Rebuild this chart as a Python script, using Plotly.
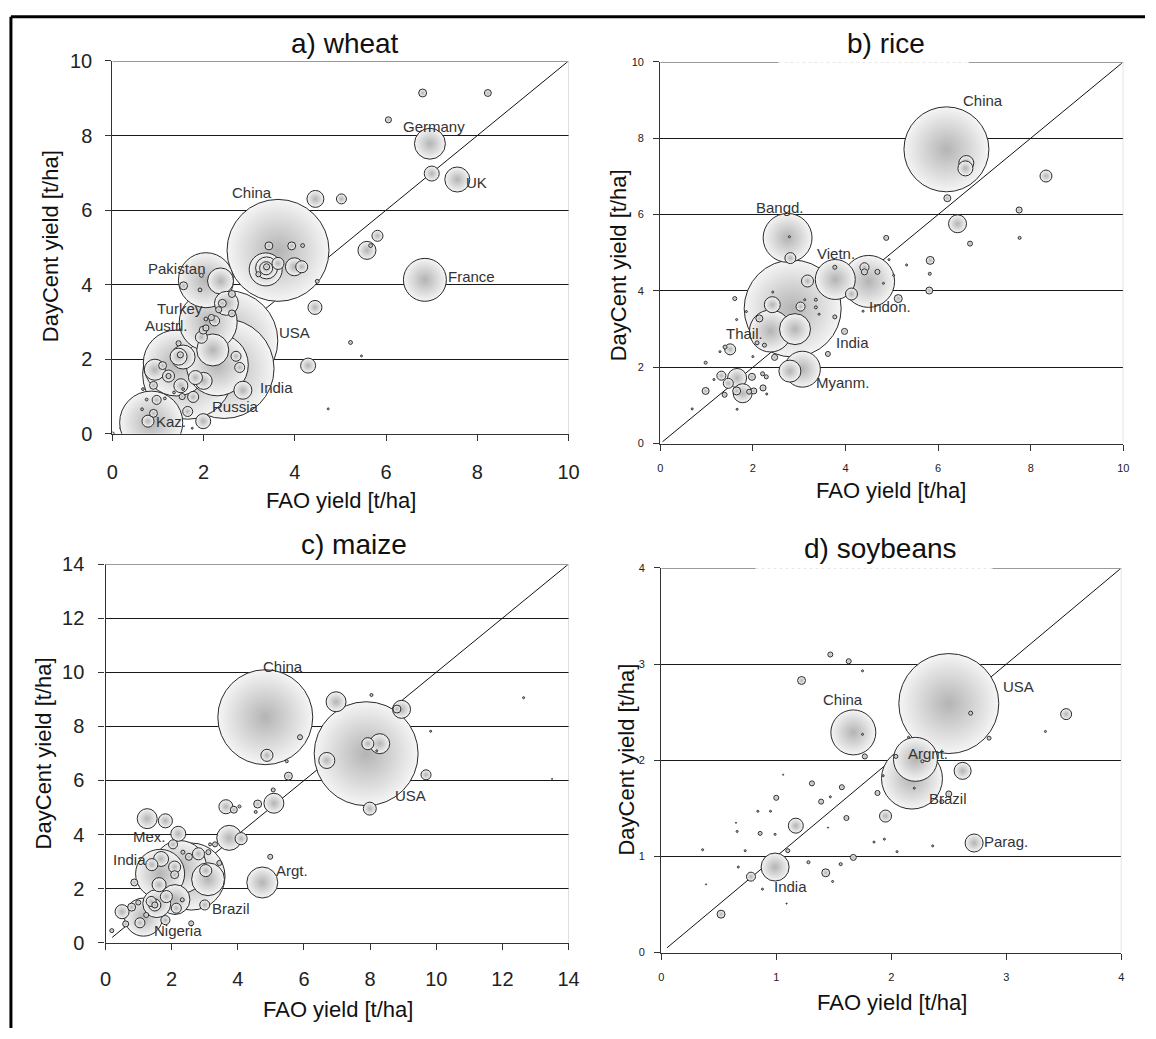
import plotly.graph_objects as go

W, H = 1156, 1039
FONT = "Liberation Sans, Arial, sans-serif"

# ---------------- data ----------------
# a) wheat : FAO yield, DayCent yield [t/ha], bubble weight (harvested area, approx.)
wheat_fao = [6.80, 8.23, 6.05, 6.96, 7.00, 7.56, 4.45, 5.02, 5.81, 5.58, 5.66, 3.63, 3.43, 3.93, 4.17,
             3.36, 3.38, 3.37, 3.38, 3.20, 3.63, 3.99, 4.15, 4.49, 4.44, 6.85, 5.22, 5.46, 4.29, 4.73,
             2.05, 2.37, 1.56, 1.95, 1.92, 2.50, 2.41, 2.62, 2.62, 2.33, 2.10, 2.53, 2.45, 1.65, 0.85,
             1.40, 2.20, 1.95, 1.99, 2.24, 2.17, 1.45, 1.45, 1.55, 1.49, 0.93, 1.10, 1.23, 1.23, 1.50,
             1.82, 2.00, 1.77, 1.53, 0.90, 0.97, 0.90, 0.78, 1.65, 1.99, 2.86, 2.71, 2.79, 2.05, 2.05,
             0.67, 0.75, 0.65, 1.15, 1.75, 1.35, 1.55, 0.00, 2.30]
wheat_daycent = [9.14, 9.14, 8.42, 7.78, 6.98, 6.82, 6.30, 6.30, 5.31, 4.92, 5.05, 4.92, 5.04, 5.04, 5.05,
                 4.41, 4.45, 4.44, 4.48, 4.28, 4.57, 4.48, 4.48, 4.09, 3.39, 4.13, 2.45, 2.09, 1.83, 0.67,
                 4.12, 4.10, 3.97, 4.25, 3.86, 3.50, 3.50, 3.75, 3.23, 3.33, 3.00, 2.50, 1.75, 1.60, 0.30,
                 1.90, 2.25, 2.59, 2.78, 3.03, 3.12, 2.43, 2.07, 2.06, 2.12, 1.72, 1.83, 1.55, 1.55, 1.29,
                 1.51, 1.42, 0.99, 1.00, 1.30, 0.91, 0.55, 0.34, 0.60, 0.34, 1.17, 2.08, 1.78, 3.08, 2.84,
                 1.20, 0.92, 0.66, 0.95, 0.15, 1.11, 1.20, 0.00, 1.85]
wheat_weight = [0.17, 0.13, 0.10, 2.6, 0.61, 1.7, 0.78, 0.27, 0.33, 0.88, 0.04, 28.2, 0.17, 0.17, 0.04,
                2.95, 1.31, 0.46, 0.10, 0.07, 0.39, 0.88, 0.39, 0.04, 0.53, 5.0, 0.04, 0.01, 0.61, 0.01,
                8.2, 1.83, 0.17, 0.04, 0.04, 1.56, 0.17, 0.13, 0.13, 0.10, 9.1, 27.1, 27.0, 22.0, 10.8,
                11.8, 2.78, 0.39, 0.17, 0.27, 0.10, 0.07, 0.78, 1.56, 0.10, 1.2, 0.17, 0.39, 0.07, 0.53,
                0.53, 0.78, 0.33, 0.10, 0.17, 0.22, 0.17, 0.39, 0.27, 0.61, 0.88, 0.27, 0.27, 0.04, 0.10,
                0.02, 0.02, 0.02, 0.02, 0.01, 0.02, 0.02, 0.04, 10.4]
wheat_labels = ["Germany", "UK", "China", "Pakistan", "France", "Turkey", "Austrl.", "USA", "India", "Russia", "Kaz."]
wheat_label_x = [7.06, 7.98, 3.07, 1.41, 7.87, 1.49, 1.19, 3.99, 3.60, 2.69, 1.29]
wheat_label_y = [8.23, 6.74, 6.48, 4.44, 4.22, 3.37, 2.91, 2.71, 1.24, 0.74, 0.32]

# b) rice
rice_fao = [6.18, 6.61, 6.59, 8.33, 6.20, 7.75, 6.42, 7.76, 6.69, 4.88, 5.83, 5.82, 5.81, 5.32, 4.94,
            5.04, 4.82, 5.14, 4.50, 4.41, 4.41, 4.69, 4.13, 4.38, 3.78, 3.77, 3.77, 3.98, 3.62, 2.86,
            2.75, 2.79, 2.81, 3.18, 3.03, 2.42, 2.91, 2.38, 2.14, 1.65, 1.61, 1.86, 2.43, 3.12, 3.36,
            3.36, 3.43, 2.09, 2.25, 2.00, 1.40, 1.51, 1.29, 2.47, 3.07, 2.80, 1.66, 1.78, 1.47, 1.32,
            1.65, 1.98, 2.02, 1.92, 2.21, 2.29, 2.22, 0.98, 1.39, 1.16, 0.98, 0.69, 1.66, 2.30]
rice_daycent = [7.71, 7.35, 7.21, 7.01, 6.43, 6.12, 5.76, 5.39, 5.24, 5.39, 4.80, 4.45, 4.01, 4.68, 4.82,
                4.41, 4.20, 3.80, 4.25, 4.62, 4.50, 4.50, 3.92, 3.47, 4.30, 4.62, 3.32, 2.94, 2.35, 3.54,
                5.39, 5.42, 4.86, 4.26, 3.59, 3.64, 3.00, 2.95, 3.28, 3.25, 3.80, 3.46, 3.97, 3.77, 3.77,
                3.57, 3.39, 2.64, 2.58, 2.28, 2.53, 2.47, 2.41, 2.26, 1.95, 1.90, 1.72, 1.32, 1.58, 1.78,
                1.38, 1.75, 1.38, 1.36, 1.83, 1.75, 1.46, 1.38, 1.28, 1.68, 2.12, 0.91, 0.90, 1.30]
rice_weight = [35.3, 1.1, 1.1, 0.70, 0.24, 0.18, 1.58, 0.044, 0.12, 0.12, 0.31, 0.044, 0.24, 0.02, 0.02,
               0.02, 0.02, 0.31, 13.2, 0.40, 0.18, 0.12, 0.70, 0.02, 7.8, 0.078, 0.078, 0.18, 0.12, 46.0,
               11.7, 0.02, 0.59, 0.70, 0.40, 1.25, 4.7, 8.6, 0.24, 0.02, 0.078, 0.02, 0.02, 0.02, 0.044,
               0.044, 0.02, 0.078, 0.078, 0.02, 0.078, 0.59, 0.02, 0.18, 6.3, 2.37, 1.77, 1.77, 0.49, 0.40,
               0.31, 0.24, 0.18, 0.12, 0.078, 0.078, 0.18, 0.24, 0.12, 0.02, 0.044, 0.02, 0.02, 0.02]
rice_labels = ["China", "Bangd.", "Vietn.", "Indon.", "Thail.", "India", "Myanm."]
rice_label_x = [6.98, 2.58, 3.79, 4.96, 1.81, 4.15, 3.94]
rice_label_y = [9.00, 6.19, 4.99, 3.58, 2.88, 2.66, 1.60]

# c) maize
maize_fao = [4.83, 7.88, 6.97, 8.95, 8.81, 8.04, 12.64, 9.83, 13.50, 8.29, 7.93, 8.20, 5.88, 4.88, 5.48,
             6.69, 5.53, 9.69, 7.99, 5.09, 5.07, 4.60, 4.54, 3.64, 3.88, 4.05, 4.98, 4.74, 3.74, 4.10,
             3.16, 2.60, 2.25, 1.65, 1.15, 1.26, 1.81, 2.20, 2.04, 2.81, 2.52, 3.03, 1.40, 1.68, 2.09,
             2.09, 1.62, 0.87, 1.84, 1.49, 1.49, 2.14, 1.38, 0.50, 0.79, 1.04, 1.81, 3.00, 2.59, 0.19,
             0.61, 0.99, 1.23, 2.32, 3.31, 3.44, 3.11, 2.34, 3.10, 1.55, 2.10]
maize_daycent = [8.34, 6.99, 8.91, 8.63, 8.64, 9.16, 9.06, 7.82, 6.06, 7.36, 7.36, 7.10, 7.60, 6.93, 6.71,
                 6.74, 6.16, 6.21, 4.96, 5.16, 5.65, 5.13, 4.84, 5.03, 4.92, 5.04, 3.18, 2.23, 3.88, 3.85,
                 3.64, 2.45, 2.80, 2.55, 0.95, 4.59, 4.51, 4.03, 3.64, 3.29, 3.18, 2.67, 2.89, 3.10, 2.80,
                 2.52, 2.15, 2.23, 1.71, 1.40, 1.40, 1.28, 1.53, 1.15, 1.32, 0.74, 0.84, 1.40, 0.72, 0.45,
                 0.70, 1.49, 1.03, 1.59, 3.64, 2.95, 3.35, 3.35, 2.35, 1.45, 1.60]
maize_weight = [24.2, 29.0, 1.07, 0.87, 0.17, 0.024, 0.011, 0.011, 0.003, 1.07, 0.39, 0.011, 0.067, 0.39, 0.024,
                0.69, 0.17, 0.27, 0.45, 1.07, 0.043, 0.17, 0.024, 0.53, 0.13, 0.024, 0.067, 2.58, 1.68, 0.39,
                0.024, 12.05, 7.54, 6.45, 3.88, 1.07, 0.53, 0.60, 0.22, 0.39, 0.13, 0.39, 0.39, 0.60, 0.39,
                0.17, 0.53, 0.13, 0.39, 0.39, 0.097, 0.27, 0.27, 0.53, 0.17, 0.27, 0.22, 0.27, 0.067, 0.043,
                0.097, 0.067, 0.067, 0.043, 0.067, 0.067, 0.067, 0.043, 2.9, 2.1, 2.4]
maize_labels = ["China", "USA", "Mex.", "India", "Argt.", "Brazil", "Nigeria"]
maize_label_x = [5.36, 9.22, 1.34, 0.72, 5.63, 3.80, 2.19]
maize_label_y = [10.21, 5.46, 3.92, 3.08, 2.68, 1.28, 0.45]

# d) soybeans
soy_fao = [2.50, 1.67, 2.21, 2.18, 2.62, 3.52, 2.72, 1.95, 1.17, 0.99, 1.22, 1.47, 1.63, 1.75, 2.69,
           3.34, 2.85, 1.77, 1.75, 2.04, 2.27, 2.15, 1.31, 1.57, 1.88, 2.20, 1.00, 1.39, 1.47, 1.61,
           1.06, 2.50, 2.44, 1.85, 1.94, 2.36, 2.05, 0.86, 0.99, 0.84, 0.95, 0.65, 0.66, 0.36, 0.73,
           1.10, 0.67, 1.28, 1.56, 1.67, 1.43, 1.49, 0.78, 0.88, 0.39, 1.09, 0.52, 1.45, 1.93]
soy_daycent = [2.59, 2.29, 2.01, 1.81, 1.89, 2.48, 1.14, 1.42, 1.32, 0.89, 2.83, 3.10, 3.03, 2.93, 2.49,
               2.30, 2.23, 2.04, 2.27, 2.04, 1.99, 2.24, 1.76, 1.72, 1.66, 1.71, 1.61, 1.57, 1.62, 1.40,
               1.85, 1.65, 1.57, 1.15, 1.18, 1.11, 1.05, 1.24, 1.23, 1.47, 1.47, 1.35, 1.26, 1.07, 1.06,
               1.06, 0.89, 0.94, 0.92, 0.99, 0.83, 0.74, 0.79, 0.66, 0.71, 0.51, 0.40, 1.30, 1.84]
soy_weight = [75.6, 15.3, 14.6, 28.1, 2.19, 0.91, 2.45, 1.09, 1.7, 5.93, 0.48, 0.19, 0.19, 0.03, 0.12,
              0.03, 0.12, 0.19, 0.03, 0.12, 0.07, 0.03, 0.19, 0.19, 0.19, 0.03, 0.19, 0.19, 0.03, 0.19,
              0.01, 0.27, 0.12, 0.03, 0.03, 0.03, 0.03, 0.12, 0.03, 0.03, 0.03, 0.01, 0.03, 0.03, 0.03,
              0.12, 0.03, 0.07, 0.07, 0.27, 0.48, 0.03, 0.61, 0.03, 0.01, 0.01, 0.48, 0.01, 0.03]
soy_labels = ["USA", "China", "Argnt.", "Brazil", "Parag.", "India"]
soy_label_x = [3.11, 1.58, 2.32, 2.49, 3.00, 1.12]
soy_label_y = [2.77, 2.63, 2.07, 1.60, 1.16, 0.69]

# ---------------- styling / layout ----------------
panels = [
    dict(fao=wheat_fao, dc=wheat_daycent, w=wheat_weight, lab=wheat_labels, lx=wheat_label_x, ly=wheat_label_y,
         k=19.2, rng=10, dtick=2, fs=20, xstand=14, ystand=9, px=(108, 571), py=(51, 432),
         title="a) wheat", tpos=(344, 33), ytpos=(46, 240), xtpos=(340, 500), gap=None, diag0=0.15),
    dict(fao=rice_fao, dc=rice_daycent, w=rice_weight, lab=rice_labels, lx=rice_label_x, ly=rice_label_y,
         k=14.3, rng=10, dtick=2, fs=11, xstand=8, ystand=7, px=(664, 1134), py=(52, 442),
         title="b) rice", tpos=(893, 33), ytpos=(622, 260), xtpos=(898, 490), gap=(2.55, 6.66), diag0=0.05),
    dict(fao=maize_fao, dc=maize_daycent, w=maize_weight, lab=maize_labels, lx=maize_label_x, ly=maize_label_y,
         k=19.3, rng=14, dtick=2, fs=20, xstand=12, ystand=10, px=(101, 571), py=(565, 952),
         title="c) maize", tpos=(353, 545), ytpos=(39, 758), xtpos=(337, 1020), gap=None, diag0=0.2),
    dict(fao=soy_fao, dc=soy_daycent, w=soy_weight, lab=soy_labels, lx=soy_label_x, ly=soy_label_y,
         k=11.5, rng=4, dtick=1, fs=11, xstand=8, ystand=7, px=(665, 1132), py=(569, 962),
         title="d) soybeans", tpos=(888, 549), ytpos=(630, 765), xtpos=(899, 1013), gap=(0.82, 2.88), diag0=0.05),
]

fig = go.Figure()
layout = dict(width=W, height=H, margin=dict(l=0, r=0, t=0, b=0), paper_bgcolor="white",
              plot_bgcolor="white", showlegend=False, font=dict(family=FONT, color="#222"))
annotations, shapes = [], []

for i, p in enumerate(panels, start=1):
    sfx = "" if i == 1 else str(i)
    xa, ya = "x" + sfx, "y" + sfx
    rng = p["rng"]
    common = dict(range=[0, rng], dtick=p["dtick"], tick0=0, showline=True, linecolor="#333", linewidth=1.3,
                  ticks="outside", ticklen=6, tickwidth=1.3, tickcolor="#333", zeroline=False,
                  tickfont=dict(size=p["fs"], color="#222", family=FONT), fixedrange=True)
    layout["xaxis" + sfx] = dict(common, domain=[p["px"][0] / W, p["px"][1] / W], anchor=ya,
                                 showgrid=False, ticklabelstandoff=p["xstand"])
    layout["yaxis" + sfx] = dict(common, domain=[1 - p["py"][1] / H, 1 - p["py"][0] / H], anchor=xa,
                                 showgrid=True, gridcolor="#1a1a1a", gridwidth=1, ticklabelstandoff=p["ystand"])

    # 1:1 line
    fig.add_trace(go.Scatter(x=[p["diag0"], rng], y=[p["diag0"], rng], mode="lines",
                             line=dict(color="#111", width=1), xaxis=xa, yaxis=ya, hoverinfo="skip"))
    # bubbles, largest first
    order = sorted(range(len(p["w"])), key=lambda j: -p["w"][j])
    fig.add_trace(go.Scatter(
        x=[p["fao"][j] for j in order], y=[p["dc"][j] for j in order], mode="markers",
        marker=dict(size=[p["w"][j] for j in order], sizemode="area", sizeref=2.0 / p["k"] ** 2,
                    color="#f5f5f5", gradient=dict(type="radial", color="#b4b4b4"),
                    line=dict(color="#2a2a2a", width=1), opacity=1),
        xaxis=xa, yaxis=ya, hoverinfo="skip"))
    # country labels
    for t, lx, ly in zip(p["lab"], p["lx"], p["ly"]):
        annotations.append(dict(x=lx, y=ly, xref=xa, yref=ya, text=t, showarrow=False,
                                font=dict(size=15, color="#333", family=FONT),
                                xanchor="center", yanchor="middle"))
    # top border (replaces top gridline) and right border
    shapes.append(dict(type="line", xref=xa, yref=ya, x0=0, x1=rng, y0=rng, y1=rng,
                       line=dict(color="white", width=2.5), layer="above"))
    if p["gap"] is None:
        shapes.append(dict(type="line", xref=xa, yref=ya, x0=0, x1=rng, y0=rng, y1=rng,
                           line=dict(color="#7a7a7a", width=1.5), layer="above"))
    else:
        g0, g1 = p["gap"]
        shapes.append(dict(type="line", xref=xa, yref=ya, x0=0, x1=g0, y0=rng, y1=rng,
                           line=dict(color="#7a7a7a", width=1.5), layer="above"))
        shapes.append(dict(type="line", xref=xa, yref=ya, x0=g0, x1=g1, y0=rng, y1=rng,
                           line=dict(color="#c8c8c8", width=1, dash="dot"), layer="above"))
        shapes.append(dict(type="line", xref=xa, yref=ya, x0=g1, x1=rng, y0=rng, y1=rng,
                           line=dict(color="#7a7a7a", width=1.5), layer="above"))
    shapes.append(dict(type="line", xref=xa, yref=ya, x0=rng, x1=rng, y0=0, y1=rng,
                       line=dict(color="#c4c4c4", width=1), layer="above"))

    # titles
    annotations.append(dict(x=p["tpos"][0] / W, y=1 - p["tpos"][1] / H, xref="paper", yref="paper",
                            text=p["title"], showarrow=False, xanchor="center", yanchor="middle",
                            font=dict(size=28, color="#111", family=FONT)))
    annotations.append(dict(x=p["ytpos"][0] / W, y=1 - p["ytpos"][1] / H, xref="paper", yref="paper",
                            text="DayCent yield [t/ha]", showarrow=False, textangle=-90,
                            xanchor="center", yanchor="middle", font=dict(size=22, color="#111", family=FONT)))
    annotations.append(dict(x=p["xtpos"][0] / W, y=1 - p["xtpos"][1] / H, xref="paper", yref="paper",
                            text="FAO yield [t/ha]", showarrow=False,
                            xanchor="center", yanchor="middle", font=dict(size=22, color="#111", family=FONT)))

# outer frame (top and left edges visible in the reference)
shapes.append(dict(type="line", xref="paper", yref="paper", x0=5 / W, x1=1, y0=1 - 6 / H, y1=1 - 6 / H,
                   line=dict(color="black", width=3)))
shapes.append(dict(type="line", xref="paper", yref="paper", x0=5 / W, x1=5 / W, y0=0, y1=1 - 6 / H,
                   line=dict(color="black", width=3)))

layout["annotations"] = annotations
layout["shapes"] = shapes
fig.update_layout(**layout)
fig.write_html("out.html")
